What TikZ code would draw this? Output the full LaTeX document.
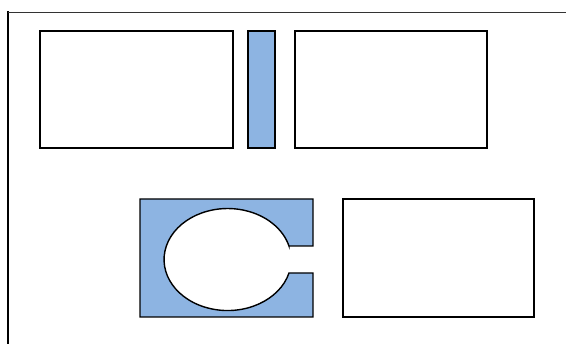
\documentclass[tikz,border=0pt]{standalone}
\definecolor{paneblue}{RGB}{141,180,226}
\begin{document}
\begin{tikzpicture}[x=1pt,y=1pt,box/.style={draw,line width=1.4pt,fill=white},pane/.style={draw,line width=1.4pt,fill=paneblue}]
\useasboundingbox (0,0) rectangle (566,344);
\draw[line width=1.6pt] (8,0) -- (8,333);
\draw[line width=0.8pt,black!80] (8,332) -- (566,332);
\draw[box] (40,196) rectangle (233,313);
\draw[pane] (248,196) rectangle (275,313);
\draw[box] (295,196) rectangle (487,313);
\draw[pane] (289,98) -- (313,98) -- (313,145) -- (140,145) -- (140,27) -- (313,27) -- (313,71) -- (289,71)
  arc[start angle=-15.3,end angle=-344.7,x radius=63.6,y radius=51] -- cycle;
\draw[box] (343,27) rectangle (534,145);
\end{tikzpicture}
\end{document}
